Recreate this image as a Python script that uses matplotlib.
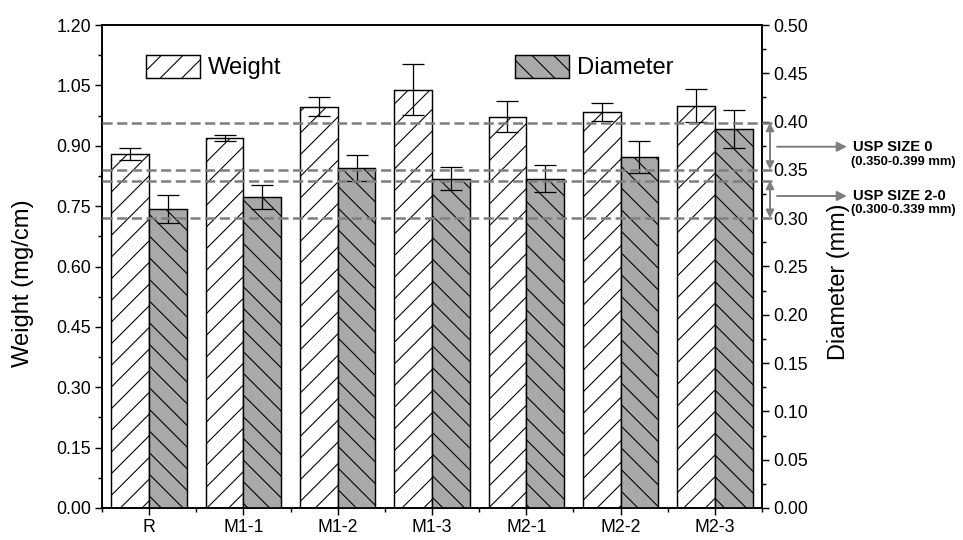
import numpy as np
import matplotlib
matplotlib.use('Agg')
import matplotlib.pyplot as plt
from matplotlib.patches import Patch
from matplotlib.ticker import MultipleLocator, FixedLocator, FormatStrFormatter

# ---- data ----
categories = ['R', 'M1-1', 'M1-2', 'M1-3', 'M2-1', 'M2-2', 'M2-3']
weight = [0.879, 0.919, 0.997, 1.039, 0.972, 0.983, 1.000]
weight_err = [0.015, 0.008, 0.023, 0.063, 0.038, 0.022, 0.040]
diameter = [0.310, 0.322, 0.352, 0.341, 0.341, 0.363, 0.392]
diameter_err = [0.0145, 0.0125, 0.0138, 0.0115, 0.014, 0.0167, 0.0195]
usp_lines = [0.399, 0.350, 0.339, 0.300]
usp_ranges = [(0.350, 0.399), (0.300, 0.339)]
usp_labels = ['USP SIZE 0', 'USP SIZE 2-0']
usp_sub = ['(0.350-0.399 mm)', '(0.300-0.339 mm)']
usp_label_y = [0.374, 0.323]
usp_sub_y = [0.358, 0.308]

DPI = 130
plt.rcParams['font.family'] = ['Liberation Sans', 'DejaVu Sans']
plt.rcParams['hatch.linewidth'] = 0.6
plt.rcParams['axes.linewidth'] = 0.9

fig = plt.figure(figsize=(963 / DPI, 540 / DPI), dpi=DPI)
ax = fig.add_axes([102 / 963, 32 / 540, 660 / 963, 483 / 540])
ax2 = ax.twinx()

x = np.arange(len(categories))
w = 0.4
gray = '#a9a9a9'
lgray = '#7f7f7f'

ax.bar(x - w / 2, weight, width=w, facecolor='white', edgecolor='black',
       linewidth=0.8, hatch='//', zorder=2)
ax.errorbar(x - w / 2, weight, yerr=weight_err, fmt='none', ecolor='black',
            elinewidth=0.7, capsize=6, capthick=0.7, zorder=3)

ax2.bar(x + w / 2, diameter, width=w, facecolor=gray, edgecolor='black',
        linewidth=0.8, hatch='\\\\', zorder=2)
ax2.errorbar(x + w / 2, diameter, yerr=diameter_err, fmt='none', ecolor='black',
             elinewidth=0.7, capsize=6, capthick=0.7, zorder=3)

ax.set_xlim(-0.5, 6.5)
ax.set_ylim(0, 1.2)
ax2.set_ylim(0, 0.5)

# dashed USP lines
for v in usp_lines:
    ax2.plot([-0.5, 6.62], [v, v], ls=(0, (4, 1.8)), color=lgray, lw=1.4,
             clip_on=False, zorder=5)

# arrows and labels
for (lo, hi), lab, sub, ly, sy in zip(usp_ranges, usp_labels, usp_sub, usp_label_y, usp_sub_y):
    ax2.annotate('', xy=(6.585, lo), xytext=(6.585, hi),
                 arrowprops=dict(arrowstyle='<|-|>', color=lgray, lw=1.1,
                                 mutation_scale=9, shrinkA=0, shrinkB=0),
                 annotation_clip=False)
    ax2.annotate('', xy=(7.40, ly), xytext=(6.66, ly),
                 arrowprops=dict(arrowstyle='-|>', color=lgray, lw=1.1,
                                 mutation_scale=11, shrinkA=0, shrinkB=0),
                 annotation_clip=False)
    ax2.text(7.464, ly, lab, fontsize=8.2, fontweight='bold', ha='left',
             va='center', clip_on=False)
    ax2.text(7.44, sy, sub, fontsize=7.2, fontweight='bold', ha='left',
             va='center', clip_on=False)

# ticks
ax.set_xticks(x)
ax.set_xticklabels(categories)
ax.xaxis.set_minor_locator(FixedLocator(np.arange(-0.5, 7, 1.0)))
ax.yaxis.set_major_locator(MultipleLocator(0.15))
ax.yaxis.set_minor_locator(MultipleLocator(0.075))
ax.yaxis.set_major_formatter(FormatStrFormatter('%.2f'))
ax2.yaxis.set_major_locator(MultipleLocator(0.05))
ax2.yaxis.set_minor_locator(MultipleLocator(0.025))
ax2.yaxis.set_major_formatter(FormatStrFormatter('%.2f'))

for a in (ax, ax2):
    a.tick_params(which='major', direction='out', length=4, width=0.8,
                  labelsize=9.8, pad=2)
    a.tick_params(which='minor', direction='out', length=2.3, width=0.8)

fig.text(23 / 963, 1 - 283 / 540, 'Weight (mg/cm)', rotation=90, ha='center',
         va='center', fontsize=13.2)
fig.text(838 / 963, 1 - 282 / 540, 'Diameter (mm)', rotation=90, ha='center',
         va='center', fontsize=13.0)

# legends
h1 = Patch(facecolor='white', edgecolor='black', hatch='//', linewidth=0.8)
h2 = Patch(facecolor=gray, edgecolor='black', hatch='\\\\', linewidth=0.8)
common = dict(loc='center left', frameon=False, fontsize=13.2, handlelength=2.26,
              handleheight=1.1, handletextpad=0.34, borderpad=0, borderaxespad=0)
leg1 = ax2.legend([h1], ['Weight'], bbox_to_anchor=(0.0667, 0.913), **common)
ax2.add_artist(leg1)
ax2.legend([h2], ['Diameter'], bbox_to_anchor=(0.626, 0.913), **common)

fig.savefig('out.png', dpi=DPI)
